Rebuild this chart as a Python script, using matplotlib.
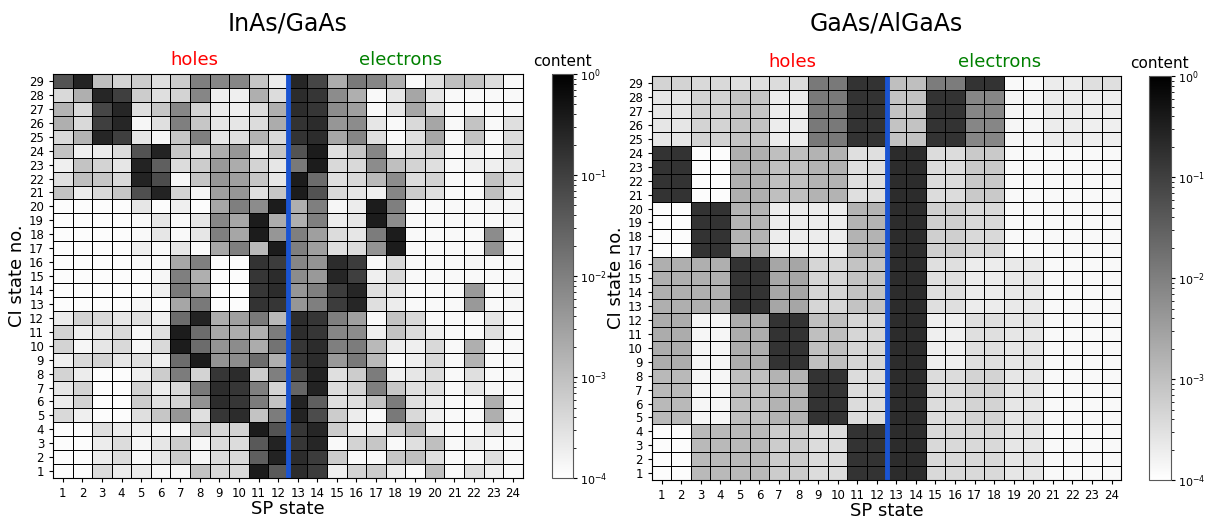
import numpy as np
import matplotlib
matplotlib.use("Agg")
import matplotlib.pyplot as plt
from matplotlib.colors import LogNorm

# log10(content), rows listed from CI state 29 (top) down to CI state 1
inas_holes = [
  [-1.3, -0.55, -3.0, -3.3, -3.2, -3.5, -3.2, -2.0, -2.1, -2.1, -3.1, -3.7],
  [-3.4, -2.75, -0.6, -1.0, -3.2, -3.5, -3.3, -2.1, -3.75, -3.75, -2.75, -3.45],
  [-2.8, -3.4, -1.1, -0.6, -3.5, -3.1, -2.1, -3.3, -3.7, -3.75, -3.45, -2.75],
  [-2.75, -3.4, -1.0, -0.6, -3.85, -3.5, -2.0, -3.1, -3.6, -3.6, -3.45, -2.7],
  [-3.4, -2.8, -0.6, -1.0, -3.6, -3.85, -3.1, -2.0, -3.6, -3.5, -2.8, -3.4],
  [-3.05, -3.75, -3.7, -3.45, -1.3, -0.55, -3.1, -3.5, -2.7, -2.35, -3.6, -3.1],
  [-3.75, -3.05, -3.3, -3.6, -0.55, -1.5, -3.45, -3.2, -2.4, -2.7, -3.3, -3.6],
  [-3.5, -3.0, -3.1, -3.4, -0.55, -1.2, -3.85, -3.1, -2.35, -2.5, -3.1, -3.6],
  [-3.05, -3.7, -3.4, -3.1, -1.25, -0.55, -3.3, -3.85, -2.5, -2.35, -3.5, -3.1],
  [-3.95, -3.95, -3.95, -3.95, -3.6, -3.95, -3.75, -3.95, -2.6, -2.0, -2.2, -0.45],
  [-3.95, -3.95, -3.95, -3.95, -3.9, -3.6, -3.9, -3.6, -2.1, -2.6, -0.45, -2.7],
  [-3.95, -3.95, -3.95, -3.95, -3.9, -3.6, -3.9, -3.6, -2.0, -2.6, -0.45, -2.35],
  [-3.95, -3.95, -3.95, -3.95, -3.75, -3.9, -3.6, -3.9, -2.6, -2.0, -2.9, -0.45],
  [-3.95, -3.95, -3.95, -3.95, -3.9, -3.9, -2.6, -2.0, -3.95, -3.95, -0.8, -0.95],
  [-3.95, -3.95, -3.95, -3.95, -3.95, -3.85, -2.0, -2.75, -3.95, -3.95, -0.85, -0.7],
  [-3.95, -3.95, -3.95, -3.95, -3.95, -3.75, -1.9, -2.5, -3.95, -3.95, -0.85, -0.7],
  [-3.95, -3.95, -3.95, -3.95, -3.85, -3.95, -2.6, -1.9, -3.95, -3.95, -0.8, -0.85],
  [-3.7, -3.3, -3.4, -3.6, -3.5, -3.75, -1.7, -0.55, -2.7, -2.5, -1.9, -2.9],
  [-3.3, -3.75, -3.6, -3.4, -3.85, -3.5, -0.45, -1.7, -2.6, -2.7, -2.75, -1.95],
  [-3.3, -3.85, -3.6, -3.4, -3.85, -3.4, -0.45, -1.7, -2.3, -2.2, -2.7, -1.8],
  [-3.75, -3.4, -3.3, -3.6, -3.5, -3.75, -1.7, -0.45, -2.3, -2.2, -1.7, -2.75],
  [-3.3, -3.7, -3.95, -3.95, -3.75, -3.2, -1.95, -3.3, -0.85, -0.7, -3.2, -2.0],
  [-3.6, -3.3, -3.95, -3.95, -3.3, -3.7, -3.4, -1.9, -0.7, -0.85, -2.0, -3.3],
  [-3.7, -3.3, -3.95, -3.95, -3.2, -3.5, -3.3, -2.3, -0.7, -0.85, -1.95, -3.05],
  [-3.4, -3.75, -3.95, -3.95, -3.5, -3.1, -2.35, -3.5, -0.85, -0.7, -3.05, -1.95],
  [-3.95, -3.95, -3.5, -3.7, -3.75, -3.85, -3.85, -3.05, -3.4, -3.3, -0.45, -1.3],
  [-3.95, -3.95, -3.7, -3.45, -3.85, -3.6, -3.2, -3.85, -3.45, -3.45, -1.4, -0.55],
  [-3.95, -3.95, -3.7, -3.45, -3.9, -3.6, -3.2, -3.85, -3.45, -3.4, -1.5, -0.55],
  [-3.95, -3.95, -3.45, -3.7, -3.7, -3.85, -3.85, -3.05, -3.4, -3.4, -0.45, -1.4],
]

inas_electrons = [
  [-0.6, -1.1, -2.7, -1.9, -2.1, -2.75, -3.9, -3.5, -3.0, -3.05, -3.45, -3.9],
  [-0.7, -0.85, -2.2, -2.75, -3.9, -3.6, -2.6, -3.6, -3.9, -3.9, -3.9, -3.9],
  [-0.7, -0.85, -2.2, -2.5, -3.9, -3.6, -2.6, -3.45, -3.9, -3.9, -3.9, -3.9],
  [-0.8, -0.7, -2.35, -2.2, -3.6, -3.9, -3.4, -2.6, -3.9, -3.05, -3.9, -3.5],
  [-0.8, -0.7, -2.6, -2.1, -3.5, -3.9, -3.5, -2.6, -3.9, -3.05, -3.9, -3.45],
  [-1.3, -0.45, -3.5, -3.1, -2.1, -3.6, -3.45, -3.3, -3.9, -3.75, -3.9, -3.5],
  [-1.9, -0.45, -3.4, -3.4, -2.2, -3.0, -3.3, -3.5, -3.9, -3.75, -3.75, -3.6],
  [-0.45, -1.7, -3.5, -3.4, -2.9, -2.2, -3.45, -3.3, -3.9, -3.9, -3.05, -3.5],
  [-0.45, -1.3, -3.4, -3.6, -3.75, -2.1, -3.2, -3.5, -3.9, -3.9, -3.0, -3.7],
  [-2.75, -2.0, -3.85, -3.7, -0.45, -2.0, -3.9, -3.9, -3.9, -3.9, -3.85, -3.85],
  [-2.75, -2.0, -3.7, -3.6, -0.45, -2.2, -3.9, -3.9, -3.9, -3.9, -3.9, -3.85],
  [-2.0, -2.5, -3.45, -3.6, -1.95, -0.45, -3.9, -3.9, -3.9, -3.9, -2.2, -3.9],
  [-2.0, -2.5, -3.5, -3.45, -2.3, -0.45, -3.9, -3.9, -3.9, -3.9, -2.3, -3.9],
  [-2.1, -2.3, -0.7, -0.95, -3.9, -3.4, -3.9, -3.9, -3.9, -3.85, -3.9, -3.9],
  [-2.2, -2.4, -0.6, -1.0, -3.75, -3.4, -3.9, -3.9, -3.9, -3.9, -3.9, -3.9],
  [-2.35, -2.0, -0.95, -0.6, -3.5, -3.6, -3.9, -3.9, -3.9, -2.4, -3.9, -3.85],
  [-2.35, -2.0, -0.95, -0.6, -3.5, -3.7, -3.9, -3.9, -3.9, -2.4, -3.9, -3.85],
  [-0.7, -0.85, -2.0, -2.5, -3.9, -3.05, -3.4, -3.9, -3.9, -3.9, -3.6, -3.9],
  [-0.7, -0.85, -2.1, -2.2, -3.75, -3.05, -3.45, -3.75, -3.9, -3.9, -3.5, -3.9],
  [-0.85, -0.7, -2.0, -1.95, -2.9, -3.7, -3.75, -3.4, -3.9, -2.75, -3.9, -3.9],
  [-0.85, -0.7, -2.4, -1.9, -2.9, -3.9, -3.75, -3.4, -3.9, -2.8, -3.9, -3.9],
  [-1.2, -0.55, -3.5, -3.2, -1.95, -3.75, -3.6, -3.45, -3.9, -3.5, -3.9, -3.9],
  [-1.6, -0.55, -3.45, -3.3, -2.0, -3.1, -3.5, -3.5, -3.9, -3.6, -3.85, -3.9],
  [-0.55, -1.5, -3.5, -3.5, -3.05, -1.95, -3.5, -3.7, -3.9, -3.9, -2.75, -3.9],
  [-0.55, -1.2, -3.2, -3.7, -3.9, -1.9, -3.4, -3.75, -3.9, -3.9, -2.75, -3.9],
  [-0.85, -0.6, -3.2, -3.75, -3.7, -3.2, -2.9, -3.75, -3.9, -3.9, -3.6, -3.9],
  [-0.85, -0.6, -3.9, -3.3, -3.1, -3.9, -3.5, -3.0, -3.9, -3.7, -3.9, -3.9],
  [-0.7, -0.95, -3.2, -3.9, -3.9, -3.1, -3.0, -3.5, -3.9, -3.9, -3.5, -3.9],
  [-0.7, -0.95, -3.75, -3.3, -3.2, -3.7, -3.9, -3.0, -3.9, -3.5, -3.75, -3.9],
]

gaas_holes = [
  [-3.3, -3.3, -3.4, -3.4, -3.5, -3.5, -3.45, -3.45, -1.9, -1.9, -0.8, -0.8],
  [-3.6, -3.6, -3.3, -3.3, -3.05, -3.05, -3.7, -3.7, -1.9, -1.9, -0.8, -0.8],
  [-3.6, -3.6, -3.3, -3.3, -3.05, -3.05, -3.7, -3.7, -1.9, -1.9, -0.8, -0.8],
  [-3.6, -3.6, -3.3, -3.3, -3.05, -3.05, -3.7, -3.7, -1.9, -1.9, -0.8, -0.8],
  [-3.6, -3.6, -3.3, -3.3, -3.05, -3.05, -3.7, -3.7, -1.9, -1.9, -0.8, -0.8],
  [-0.8, -0.8, -3.95, -3.95, -2.75, -2.75, -3.0, -3.0, -2.8, -2.8, -3.5, -3.5],
  [-0.8, -0.8, -3.95, -3.95, -2.75, -2.75, -3.0, -3.0, -2.8, -2.8, -3.5, -3.5],
  [-0.8, -0.8, -3.95, -3.95, -2.75, -2.75, -3.0, -3.0, -2.8, -2.8, -3.5, -3.5],
  [-0.8, -0.8, -3.95, -3.95, -2.75, -2.75, -3.0, -3.0, -2.8, -2.8, -3.5, -3.5],
  [-3.95, -3.95, -0.8, -0.8, -2.8, -2.8, -3.7, -3.7, -3.7, -3.7, -2.8, -2.8],
  [-3.95, -3.95, -0.8, -0.8, -2.8, -2.8, -3.7, -3.7, -3.7, -3.7, -2.8, -2.8],
  [-3.95, -3.95, -0.8, -0.8, -2.8, -2.8, -3.7, -3.7, -3.7, -3.7, -2.8, -2.8],
  [-3.95, -3.95, -0.8, -0.8, -2.8, -2.8, -3.7, -3.7, -3.7, -3.7, -2.8, -2.8],
  [-2.75, -2.75, -2.75, -2.75, -0.8, -0.8, -2.6, -2.6, -3.35, -3.35, -3.05, -3.05],
  [-2.75, -2.75, -2.75, -2.75, -0.8, -0.8, -2.6, -2.6, -3.35, -3.35, -3.05, -3.05],
  [-2.75, -2.75, -2.75, -2.75, -0.8, -0.8, -2.6, -2.6, -3.35, -3.35, -3.05, -3.05],
  [-2.75, -2.75, -2.75, -2.75, -0.8, -0.8, -2.6, -2.6, -3.35, -3.35, -3.05, -3.05],
  [-2.7, -2.7, -3.85, -3.85, -2.7, -2.7, -0.8, -0.8, -3.0, -3.0, -3.35, -3.35],
  [-2.7, -2.7, -3.85, -3.85, -2.7, -2.7, -0.8, -0.8, -3.0, -3.0, -3.35, -3.35],
  [-2.7, -2.7, -3.85, -3.85, -2.7, -2.7, -0.8, -0.8, -3.0, -3.0, -3.35, -3.35],
  [-2.7, -2.7, -3.85, -3.85, -2.7, -2.7, -0.8, -0.8, -3.0, -3.0, -3.35, -3.35],
  [-2.9, -2.9, -3.85, -3.85, -3.0, -3.0, -2.8, -2.8, -0.8, -0.8, -3.45, -3.45],
  [-2.9, -2.9, -3.85, -3.85, -3.0, -3.0, -2.8, -2.8, -0.8, -0.8, -3.45, -3.45],
  [-2.9, -2.9, -3.85, -3.85, -3.0, -3.0, -2.8, -2.8, -0.8, -0.8, -3.45, -3.45],
  [-2.9, -2.9, -3.85, -3.85, -3.0, -3.0, -2.8, -2.8, -0.8, -0.8, -3.45, -3.45],
  [-3.95, -3.95, -2.9, -2.9, -2.9, -2.9, -3.2, -3.2, -3.45, -3.45, -0.8, -0.8],
  [-3.95, -3.95, -2.9, -2.9, -2.9, -2.9, -3.2, -3.2, -3.45, -3.45, -0.8, -0.8],
  [-3.95, -3.95, -2.9, -2.9, -2.9, -2.9, -3.2, -3.2, -3.45, -3.45, -0.8, -0.8],
  [-3.95, -3.95, -2.9, -2.9, -2.9, -2.9, -3.2, -3.2, -3.45, -3.45, -0.8, -0.8],
]

gaas_electrons = [
  [-3.0, -3.0, -1.95, -1.95, -0.8, -0.8, -3.9, -3.9, -3.7, -3.7, -3.5, -3.5],
  [-3.05, -3.05, -0.8, -0.8, -2.1, -2.1, -3.85, -3.85, -3.7, -3.7, -3.75, -3.75],
  [-3.05, -3.05, -0.8, -0.8, -2.1, -2.1, -3.85, -3.85, -3.7, -3.7, -3.75, -3.75],
  [-3.05, -3.05, -0.8, -0.8, -2.1, -2.1, -3.85, -3.85, -3.7, -3.7, -3.75, -3.75],
  [-3.05, -3.05, -0.8, -0.8, -2.1, -2.1, -3.85, -3.85, -3.7, -3.7, -3.75, -3.75],
  [-0.7, -0.7, -3.45, -3.45, -3.15, -3.15, -3.9, -3.9, -3.9, -3.9, -3.9, -3.9],
  [-0.7, -0.7, -3.45, -3.45, -3.15, -3.15, -3.9, -3.9, -3.9, -3.9, -3.9, -3.9],
  [-0.7, -0.7, -3.45, -3.45, -3.15, -3.15, -3.9, -3.9, -3.9, -3.9, -3.9, -3.9],
  [-0.7, -0.7, -3.45, -3.45, -3.15, -3.15, -3.9, -3.9, -3.9, -3.9, -3.9, -3.9],
  [-0.7, -0.7, -3.25, -3.25, -3.4, -3.4, -3.9, -3.9, -3.9, -3.9, -3.9, -3.9],
  [-0.7, -0.7, -3.25, -3.25, -3.4, -3.4, -3.9, -3.9, -3.9, -3.9, -3.9, -3.9],
  [-0.7, -0.7, -3.25, -3.25, -3.4, -3.4, -3.9, -3.9, -3.9, -3.9, -3.9, -3.9],
  [-0.7, -0.7, -3.25, -3.25, -3.4, -3.4, -3.9, -3.9, -3.9, -3.9, -3.9, -3.9],
  [-0.7, -0.7, -3.5, -3.5, -3.7, -3.7, -3.65, -3.65, -3.9, -3.9, -3.9, -3.9],
  [-0.7, -0.7, -3.5, -3.5, -3.7, -3.7, -3.65, -3.65, -3.9, -3.9, -3.9, -3.9],
  [-0.7, -0.7, -3.5, -3.5, -3.7, -3.7, -3.65, -3.65, -3.9, -3.9, -3.9, -3.9],
  [-0.7, -0.7, -3.5, -3.5, -3.7, -3.7, -3.65, -3.65, -3.9, -3.9, -3.9, -3.9],
  [-0.7, -0.7, -3.75, -3.75, -3.5, -3.5, -3.6, -3.6, -3.9, -3.9, -3.9, -3.9],
  [-0.7, -0.7, -3.75, -3.75, -3.5, -3.5, -3.6, -3.6, -3.9, -3.9, -3.9, -3.9],
  [-0.7, -0.7, -3.75, -3.75, -3.5, -3.5, -3.6, -3.6, -3.9, -3.9, -3.9, -3.9],
  [-0.7, -0.7, -3.75, -3.75, -3.5, -3.5, -3.6, -3.6, -3.9, -3.9, -3.9, -3.9],
  [-0.7, -0.7, -3.45, -3.45, -3.3, -3.3, -3.6, -3.6, -3.9, -3.9, -3.9, -3.9],
  [-0.7, -0.7, -3.45, -3.45, -3.3, -3.3, -3.6, -3.6, -3.9, -3.9, -3.9, -3.9],
  [-0.7, -0.7, -3.45, -3.45, -3.3, -3.3, -3.6, -3.6, -3.9, -3.9, -3.9, -3.9],
  [-0.7, -0.7, -3.45, -3.45, -3.3, -3.3, -3.6, -3.6, -3.9, -3.9, -3.9, -3.9],
  [-0.7, -0.7, -3.4, -3.4, -3.4, -3.4, -3.6, -3.6, -3.9, -3.9, -3.9, -3.9],
  [-0.7, -0.7, -3.4, -3.4, -3.4, -3.4, -3.6, -3.6, -3.9, -3.9, -3.9, -3.9],
  [-0.7, -0.7, -3.4, -3.4, -3.4, -3.4, -3.6, -3.6, -3.9, -3.9, -3.9, -3.9],
  [-0.7, -0.7, -3.4, -3.4, -3.4, -3.4, -3.6, -3.6, -3.9, -3.9, -3.9, -3.9],
]

titles = ["InAs/GaAs", "GaAs/AlGaAs"]
sp_states = list(range(1, 25))
ci_states = list(range(1, 30))


def draw(fig, rect, crect, holes, electrons, title):
  ax = fig.add_axes(rect)
  cax = fig.add_axes(crect)
  logc = np.hstack([np.array(holes), np.array(electrons)])[::-1]
  content = 10.0 ** logc
  xe = np.arange(0.5, len(sp_states) + 1, 1.0)
  ye = np.arange(0.5, len(ci_states) + 1, 1.0)
  mesh = ax.pcolormesh(xe, ye, content, cmap='gray_r', norm=LogNorm(1e-4, 1),
                       edgecolors='k', linewidth=0.5)
  ax.axvline(12.5, color='#1a54d2', lw=3.5)
  ax.set_xlim(0.5, 24.5)
  ax.set_ylim(0.5, 29.5)
  ax.set_xticks(sp_states)
  ax.set_yticks(ci_states)
  ax.tick_params(labelsize=8.5, length=3)
  ax.set_xlabel('SP state', fontsize=13, labelpad=0)
  ax.set_ylabel('CI state no.', fontsize=13, labelpad=2)
  ax.text(0.30, 1.012, 'holes', color='red', fontsize=13, ha='center', va='bottom', transform=ax.transAxes)
  ax.text(0.74, 1.012, 'electrons', color='green', fontsize=13, ha='center', va='bottom', transform=ax.transAxes)
  pos = ax.get_position()
  fig.text((pos.x0 + pos.x1) / 2, 0.955, title, fontsize=17, ha='center', va='center')
  cb = fig.colorbar(mesh, cax=cax)
  cb.outline.set_edgecolor('0.35')
  cb.ax.tick_params(labelsize=8, length=3, pad=2)
  cb.ax.tick_params(which='minor', length=2)
  cax.set_title('content', fontsize=11, pad=6)
  return ax


fig = plt.figure(figsize=(12.07, 5.18), dpi=100)
draw(fig, [0.044, 0.077, 0.389, 0.78], [0.457, 0.077, 0.018, 0.78], inas_holes, inas_electrons, titles[0])
draw(fig, [0.540, 0.073, 0.389, 0.78], [0.952, 0.073, 0.018, 0.78], gaas_holes, gaas_electrons, titles[1])
fig.savefig('out.png', dpi=100)
